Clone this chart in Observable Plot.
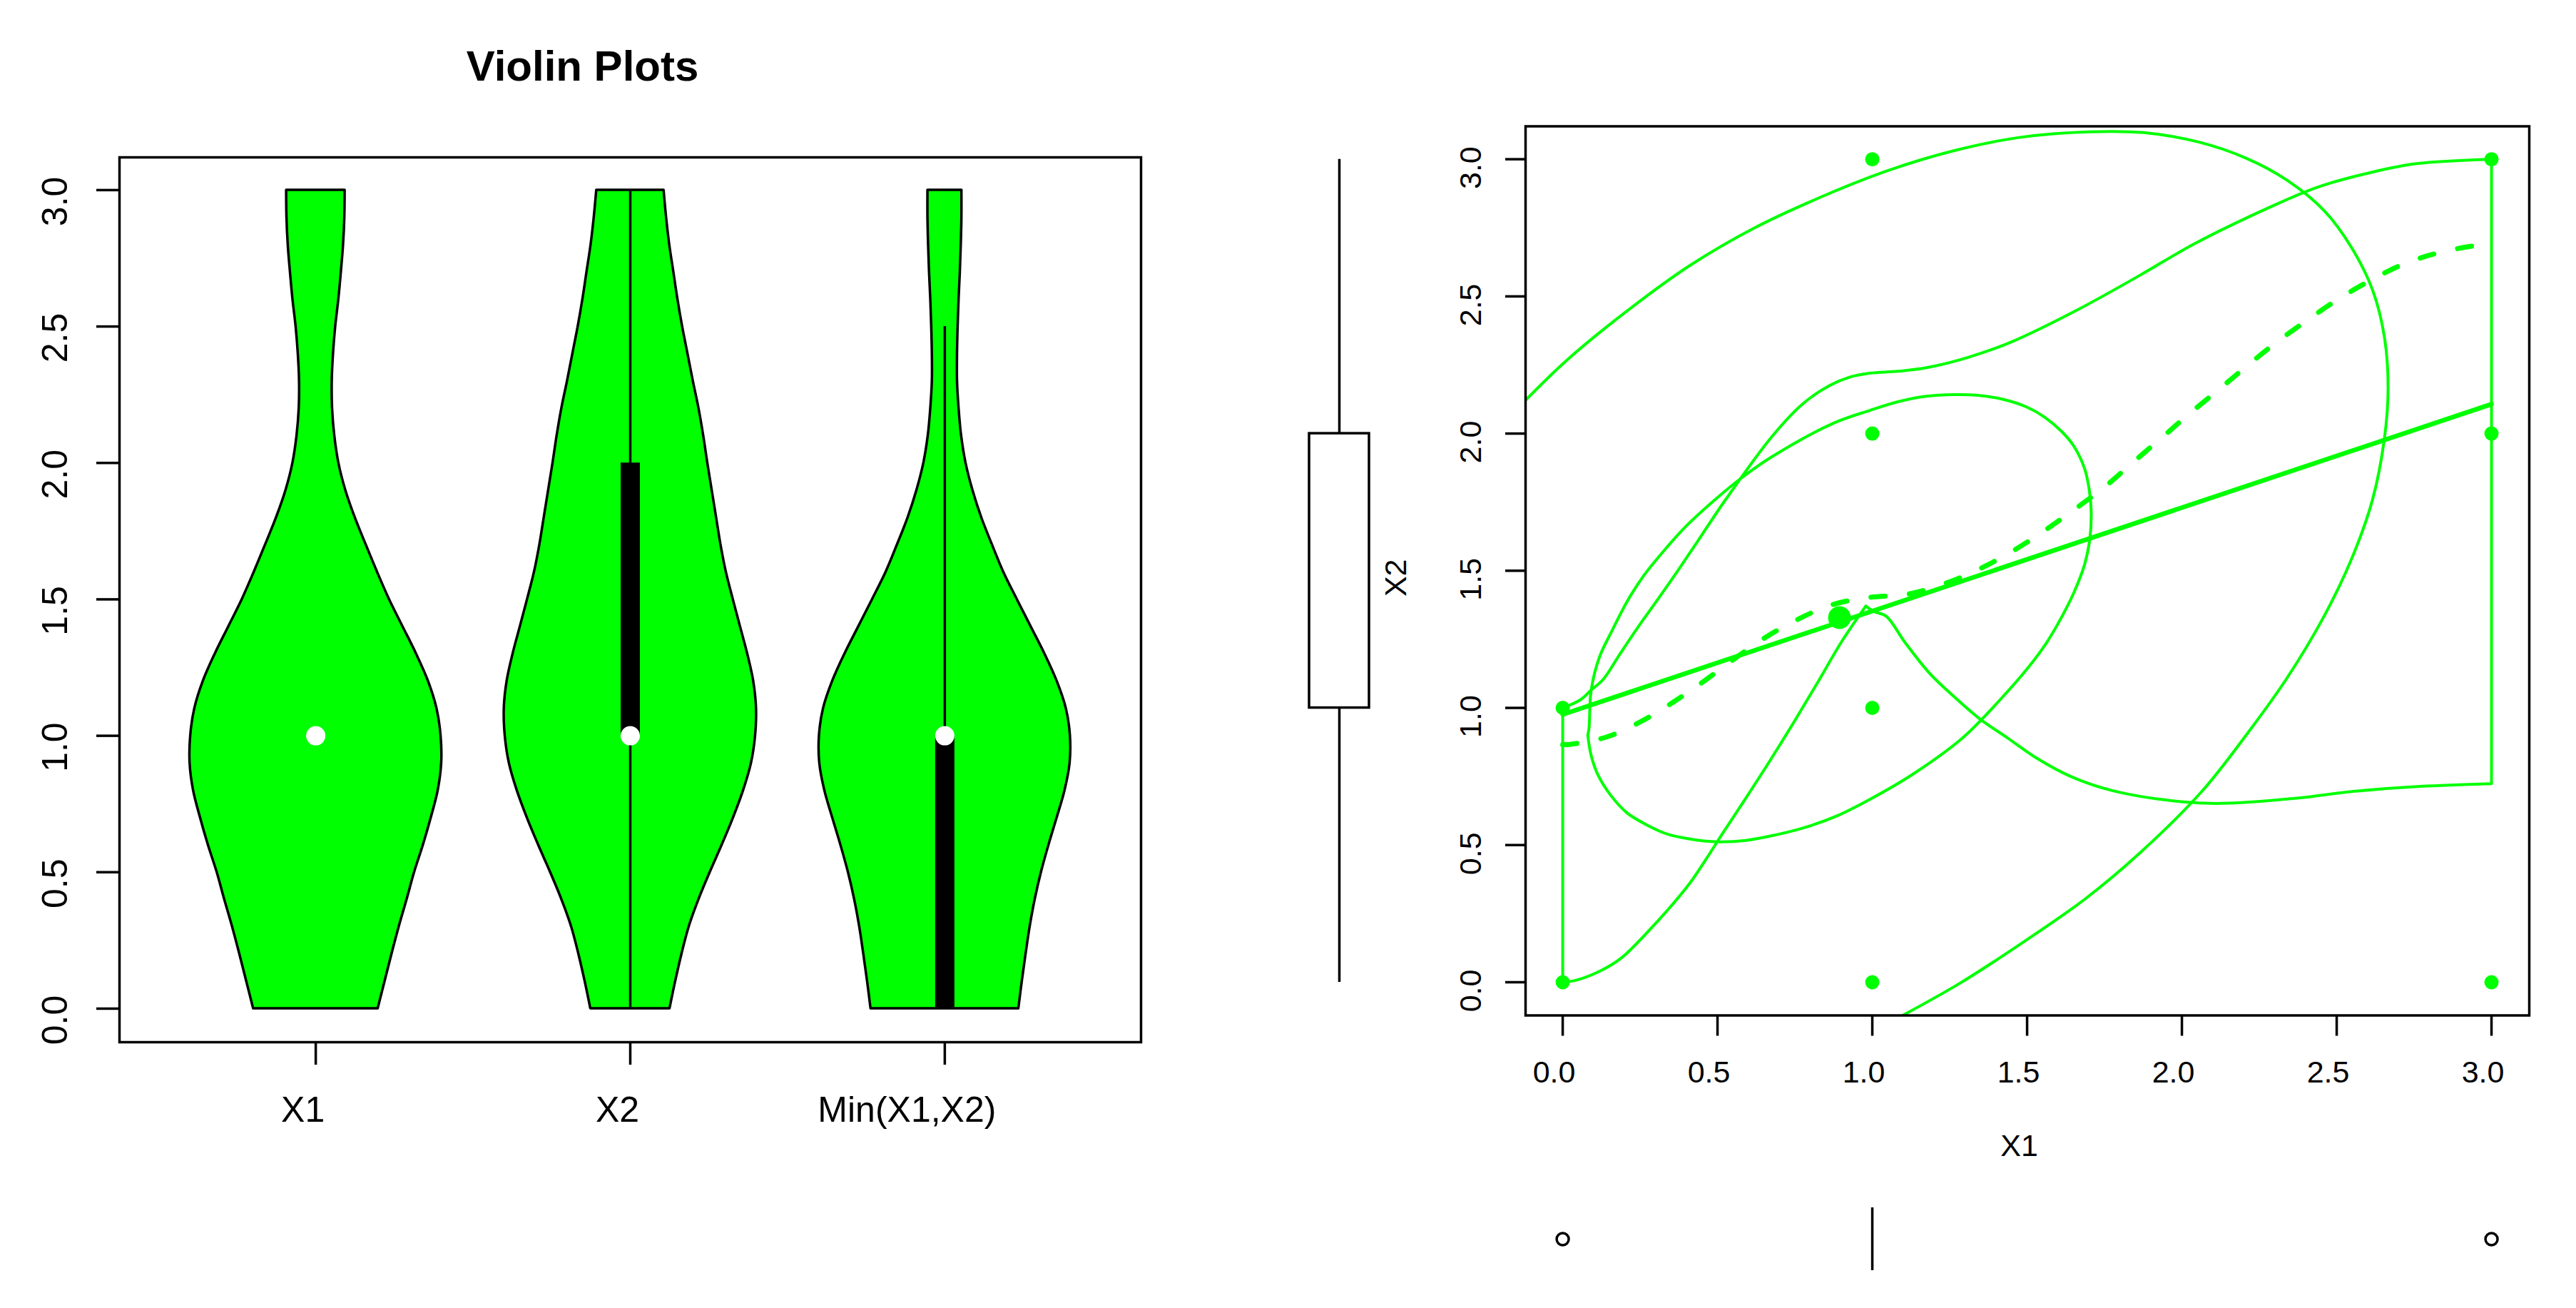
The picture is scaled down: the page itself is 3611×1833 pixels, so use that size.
<!DOCTYPE html>
<html>
<head>
<meta charset="utf-8">
<script src="https://cdn.jsdelivr.net/npm/d3@7"></script>
<script src="https://cdn.jsdelivr.net/npm/@observablehq/plot@0.6"></script>
<style>
html,body{margin:0;padding:0;background:#fff;overflow:hidden}
#chart{position:relative;width:3611px;height:1833px;background:#fff}
#chart svg{position:absolute;max-width:none;overflow:visible}
</style>
</head>
<body>
<div id="chart"></div>
<script>
const GREEN = "#00ff00";
const FONT = "'Liberation Sans', Arial, sans-serif";

// ---- Violin panel ----
const violinNames = ["X1", "X2", "Min(X1,X2)"];
const violinPos = [1, 2, 3];
const violinLabelDx = [-18, -18, -53];
const violinTicks = [0, 0.5, 1, 1.5, 2, 2.5, 3];
const violinY = [3,2.9,2.8,2.7,2.6,2.5,2.4,2.3,2.2,2.1,2,1.9,1.8,1.7,1.6,1.5,1.4,1.3,1.2,1.1,1,0.9,0.8,0.7,0.6,0.5,0.4,0.3,0.2,0.1,0];
const halfX1 = [.093,.092,.088,.081,.073,.063,.056,.052,.053,.060,.073,.095,.125,.160,.196,.234,.277,.320,.358,.385,.398,.400,.389,.367,.342,.314,.290,.265,.242,.220,.198];
const halfX2 = [.107,.115,.125,.138,.151,.166,.183,.200,.218,.233,.246,.260,.274,.288,.305,.327,.350,.373,.392,.401,.398,.385,.360,.328,.292,.254,.218,.187,.164,.144,.126];
const halfMin = [.054,.054,.052,.049,.045,.042,.040,.040,.045,.053,.067,.089,.117,.151,.187,.230,.274,.318,.357,.386,.399,.398,.382,.357,.331,.307,.287,.271,.258,.246,.235];
const violinHalves = [halfX1, halfX2, halfMin];
const violinMedian = [1, 1, 1];
const whiskerLow = [1, 0, 0];
const whiskerHigh = [1, 3, 2.5];
const boxLow = [1, 1, 0];
const boxHigh = [1, 2, 1];

// ---- Scatter panel ----
const xTicks = [0, 0.5, 1, 1.5, 2, 2.5, 3];
const yTicks = [0, 0.5, 1, 1.5, 2, 2.5, 3];
const pointsX = [0,0,1,1,1,1,3,3,3];
const pointsY = [0,1,0,1,2,3,0,2,3];
const meanPoint = [{x:0.894, y:1.329}];
const fitX = [0, 3];
const fitY = [0.976, 2.107];
const smoothX = [0,.023,.142,.252,.357,.457,.551,.655,.76,.873,.992,1.112,1.229,1.34,1.448,1.551,1.65,1.751,1.842,1.935,2.023,2.121,2.212,2.306,2.406,2.505,2.615,2.721,2.836,2.961,3];
const smoothY = [.866,.867,.894,.95,1.021,1.098,1.176,1.257,1.323,1.377,1.403,1.414,1.451,1.503,1.568,1.642,1.721,1.806,1.895,1.985,2.071,2.162,2.248,2.333,2.414,2.49,2.562,2.62,2.661,2.687,2.69];
const upperX = [0,.058,.092,.131,.184,.246,.315,.376,.438,.526,.675,.774,.862,.928,.991,1.083,1.175,1.313,1.447,1.666,1.866,2.041,2.284,2.438,2.615,2.758,3];
const upperY = [1,1.03,1.065,1.104,1.195,1.299,1.408,1.507,1.611,1.759,1.988,2.107,2.175,2.206,2.22,2.227,2.24,2.279,2.333,2.453,2.578,2.692,2.825,2.898,2.953,2.984,3];
const lowerRightX = [3,2.77,2.549,2.372,2.13,1.998,1.777,1.645,1.535,1.435,1.347,1.259,1.182,1.106,1.045,1.006,.979];
const lowerRightY = [.724,.714,.695,.671,.652,.658,.698,.748,.814,.892,.96,1.046,1.13,1.238,1.334,1.351,1.371];
const lowerLeftX = [.979,.956,.899,.822,.745,.668,.592,.515,.461,.41,.311,.189,.123,.046,0];
const lowerLeftY = [1.371,1.334,1.238,1.09,.945,.805,.672,.54,.445,.36,.228,.088,.042,.008,0];
const innerX = [.081,.092,.115,.154,.207,.269,.338,.407,.499,.592,.684,.776,.883,.991,1.129,1.292,1.413,1.502,1.563,1.613,1.651,1.686,1.703,1.707,1.701,1.686,1.651,1.613,1.559,1.498,1.421,1.336,1.267,1.175,1.083,.991,.873,.675,.576,.492,.399,.33,.261,.207,.161,.119,.092,.085,.081];
const innerY = [.90,.826,.753,.683,.618,.575,.54,.523,.512,.517,.536,.562,.605,.666,.757,.891,1.03,1.145,1.238,1.334,1.42,1.524,1.62,1.715,1.793,1.871,1.954,2.006,2.058,2.097,2.125,2.14,2.142,2.136,2.116,2.084,2.037,1.915,1.837,1.759,1.663,1.577,1.481,1.386,1.285,1.186,1.065,.926,.90];
const outerX = [-.125,.013,.2,.41,.62,.84,1.048,1.27,1.479,1.70,1.876,2.053,2.207,2.339,2.461,2.548,2.615,2.654,2.666,2.654,2.615,2.548,2.461,2.339,2.207,2.064,1.865,1.689,1.49,1.281,1.088];
const outerY = [2.116,2.267,2.44,2.612,2.75,2.865,2.958,3.033,3.08,3.1,3.097,3.063,3.004,2.924,2.811,2.678,2.526,2.353,2.167,1.981,1.756,1.543,1.338,1.108,.90,.695,.472,.305,.148,-.005,-.127];

// ---- Marginal boxplots ----
const x2Whisker = [0, 3];
const x2Box = [1, 2];
const x1Median = [1];
const x1Outliers = [0, 3];

const zip = (xs, ys) => xs.map((x, i) => ({x, y: ys[i]}));
const fmt = d3.format(".1f");
const chart = document.getElementById("chart");
const place = (svg, left, top) => {
  svg.style.left = left + "px";
  svg.style.top = top + "px";
  chart.appendChild(svg);
};
const greenLine = (xs, ys, w) => Plot.line(zip(xs, ys), {x:"x", y:"y", stroke:GREEN, strokeWidth:w, curve:"catmull-rom", clip:"frame"});

// Violin plot
place(Plot.plot({
  width:1700, height:1833,
  marginLeft:167, marginRight:101, marginTop:220, marginBottom:373,
  style:{fontFamily:FONT, color:"#000", background:"transparent"},
  x:{domain:[0.376,3.624], axis:null},
  y:{domain:[-0.123,3.12], axis:null},
  marks:[
    ...violinPos.map((p, k) => Plot.areaX(zip(violinHalves[k], violinY), {
      y:"y", x1:d => p - d.x, x2:d => p + d.x,
      fill:GREEN, stroke:"#000", strokeWidth:3.5, curve:"catmull-rom"
    })),
    Plot.ruleX(violinPos.map((p, k) => ({p, a:whiskerLow[k], b:whiskerHigh[k]})), {x:"p", y1:"a", y2:"b", stroke:"#000", strokeWidth:3.5}),
    Plot.ruleX(violinPos.map((p, k) => ({p, a:boxLow[k], b:boxHigh[k]})), {x:"p", y1:"a", y2:"b", stroke:"#000", strokeWidth:27}),
    Plot.dot(zip(violinPos, violinMedian), {x:"x", y:"y", r:13.5, fill:"#fff", stroke:null}),
    Plot.frame({stroke:"#000", strokeWidth:3.5}),
    Plot.axisY(violinTicks, {anchor:"left", tickSize:32, strokeWidth:3.5, tickFormat:() => "", label:null}),
    Plot.axisX(violinPos, {anchor:"bottom", tickSize:32, strokeWidth:3.5, tickFormat:() => "", label:null}),
    Plot.text(violinTicks, {y:d => d, text:fmt, frameAnchor:"left", textAnchor:"middle", lineAnchor:"bottom", rotate:-90, dx:-74, dy:16, fontSize:50}),
    ...violinNames.map((n, k) => Plot.text([n], {x:() => violinPos[k], text:d => d, frameAnchor:"bottom", lineAnchor:"middle", dy:95, dx:violinLabelDx[k], fontSize:50})),
    Plot.text(["Violin Plots"], {frameAnchor:"top", lineAnchor:"middle", dy:-127, dx:-67, fontSize:60, fontWeight:"bold"})
  ]
}), 0, 0);

// Boxplot of X2
place(Plot.plot({
  width:330, height:1650,
  marginLeft:135, marginRight:111, marginTop:176.5, marginBottom:227.5,
  style:{fontFamily:FONT, color:"#000", background:"transparent"},
  x:{domain:[-1,1], axis:null},
  y:{domain:[-0.121,3.12], axis:null},
  marks:[
    Plot.ruleX([0], {y1:x2Whisker[0], y2:x2Whisker[1], stroke:"#000", strokeWidth:3.5}),
    Plot.rect([x2Box], {x1:-1, x2:1, y1:d => d[0], y2:d => d[1], fill:"#fff", stroke:"#000", strokeWidth:3.5}),
    Plot.text(["X2"], {x:() => 1, y:() => 1.5, rotate:-90, textAnchor:"middle", lineAnchor:"bottom", dx:51, dy:10, fontSize:43})
  ]
}), 1700, 0);

// Scatter plot
place(Plot.plot({
  width:1581, height:1650,
  marginLeft:108, marginRight:66, marginTop:176.5, marginBottom:227.5,
  style:{fontFamily:FONT, color:"#000", background:"transparent"},
  x:{domain:[-0.12,3.122], axis:null},
  y:{domain:[-0.121,3.12], axis:null},
  marks:[
    Plot.dot(zip(pointsX, pointsY), {x:"x", y:"y", r:10, fill:GREEN, stroke:null}),
    Plot.dot(meanPoint, {x:"x", y:"y", r:16, fill:GREEN, stroke:null}),
    Plot.ruleX([0], {y1:0, y2:1, stroke:GREEN, strokeWidth:4}),
    Plot.ruleX([3], {y1:0.724, y2:3, stroke:GREEN, strokeWidth:4}),
    greenLine(upperX, upperY, 4),
    greenLine(lowerRightX, lowerRightY, 4),
    greenLine(lowerLeftX, lowerLeftY, 4),
    greenLine(innerX, innerY, 4),
    greenLine(outerX, outerY, 4),
    Plot.line(zip(fitX, fitY), {x:"x", y:"y", stroke:GREEN, strokeWidth:6.5}),
    Plot.line(zip(smoothX, smoothY), {x:"x", y:"y", stroke:GREEN, strokeWidth:7, strokeDasharray:"20,34", strokeLinecap:"round", curve:"catmull-rom"}),
    Plot.frame({stroke:"#000", strokeWidth:3.5}),
    Plot.axisY(yTicks, {anchor:"left", tickSize:28, strokeWidth:3.5, tickFormat:() => "", label:null}),
    Plot.axisX(xTicks, {anchor:"bottom", tickSize:29, strokeWidth:3.5, tickFormat:() => "", label:null}),
    Plot.text(yTicks, {y:d => d, text:fmt, frameAnchor:"left", textAnchor:"middle", lineAnchor:"bottom", rotate:-90, dx:-63, dy:12, fontSize:43}),
    Plot.text(xTicks, {x:d => d, text:fmt, frameAnchor:"bottom", lineAnchor:"middle", dy:80.5, dx:-12, fontSize:43}),
    Plot.text(["X1"], {x:() => 1.5, text:d => d, frameAnchor:"bottom", lineAnchor:"middle", dy:183.5, dx:-11, fontSize:43})
  ]
}), 2030, 0);

// Boxplot of X1
place(Plot.plot({
  width:1581, height:183,
  marginLeft:108, marginRight:66, marginTop:42, marginBottom:53,
  style:{fontFamily:FONT, color:"#000", background:"transparent"},
  x:{domain:[-0.12,3.122], axis:null},
  y:{domain:[-1,1], axis:null},
  marks:[
    Plot.ruleX(x1Median, {y1:-1, y2:1, stroke:"#000", strokeWidth:3.5}),
    Plot.dot(x1Outliers, {x:d => d, y:() => 0, r:8.5, fill:"none", stroke:"#000", strokeWidth:3.5})
  ]
}), 2030, 1650);
</script>
</body>
</html>
